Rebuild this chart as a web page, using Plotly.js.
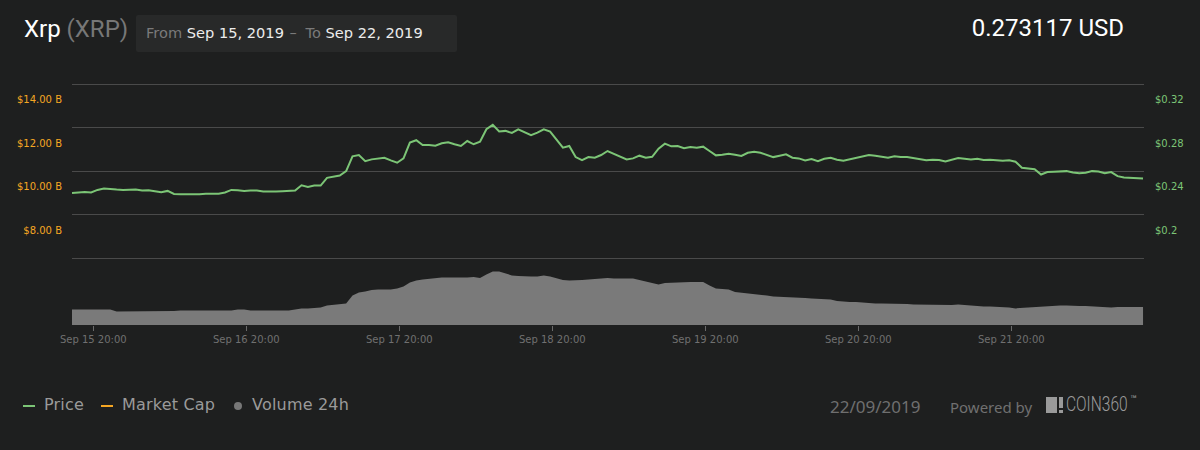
<!DOCTYPE html>
<html>
<head>
<meta charset="utf-8">
<script src="https://cdn.plot.ly/plotly-3.0.1.min.js"></script>
<style>
  html, body { margin:0; padding:0; background:#1e1f1f; width:1200px; height:450px; overflow:hidden; }
  #chart { position:absolute; left:0; top:0; width:1200px; height:450px; }
  .abs { position:absolute; white-space:nowrap; }
  #title { left:24px; top:15px; font-family:Roboto, "Noto Sans", sans-serif; font-size:24px; color:#ffffff; }
  #title span { color:#777777; }
  #range { left:136px; top:15px; width:321px; height:37px; background:#282929; border-radius:2px; }
  #rangetxt { left:146px; top:24px; font-family:"DejaVu Sans", sans-serif; font-size:14.6px; color:#ececec; }
  #rangetxt .g { color:#7a7a7a; }
  #price { right:76px; top:14px; font-family:Roboto, "Noto Sans", sans-serif; font-size:24px; color:#ffffff; }
  .leg { top:395px; font-family:"DejaVu Sans", sans-serif; font-size:16px; letter-spacing:0.2px; color:#9a9a9a; }
  .sw { position:absolute; height:2px; width:12px; top:405px; }
  #date { left:830px; top:395px; font-family:"Noto Sans", sans-serif; font-size:17px; color:#6f6f6f; }
  #pow { left:950px; top:397px; font-family:"Noto Sans", sans-serif; font-size:15px; color:#707070; }
  #logo { left:1066px; top:392px; font-family:Roboto, "Noto Sans", sans-serif; font-weight:300; font-size:21px; color:#9a9a9a; transform-origin:0 0; transform:scaleX(0.74); }
  #tm { left:1130px; top:393px; font-family:Roboto, sans-serif; font-size:11px; color:#9a9a9a; }
</style>
</head>
<body>
<div id="chart"></div>
<div class="abs" id="title">Xrp <span>(XRP)</span></div>
<div class="abs" id="range"></div>
<div class="abs" id="rangetxt"><span class="g">From</span> Sep 15, 2019 <span class="g" style="margin:0 4px 0 1px">–</span> <span class="g">To</span> Sep 22, 2019</div>
<div class="abs" id="price">0.273117 USD</div>

<div class="sw" style="left:23px;background:#7cc576"></div>
<div class="abs leg" style="left:44px">Price</div>
<div class="sw" style="left:101px;background:#f5a623"></div>
<div class="abs leg" style="left:122px">Market Cap</div>
<div class="abs" style="left:234px;top:402px;width:8px;height:8px;border-radius:4px;background:#777"></div>
<div class="abs leg" style="left:252px">Volume 24h</div>

<div class="abs" id="date">22/09/2019</div>
<div class="abs" id="pow">Powered by</div>
<div class="abs" style="left:1046px;top:397px;width:11px;height:16px;background:#9a9a9a"></div>
<div class="abs" style="left:1059px;top:397px;width:4px;height:11px;background:#9a9a9a"></div>
<div class="abs" style="left:1059px;top:410px;width:4px;height:3px;background:#9a9a9a"></div>
<div class="abs" id="logo">COIN360</div>
<div class="abs" id="tm">™</div>

<script>
// ---- data (hourly samples, starting Sep 15 2019 16:40) ----
const startTime = "2019-09-15 16:40";
const stepMinutes = 60;

const priceUSD = [
  0.2598,0.2605,0.2608,0.2602,0.2626,0.2639,0.2632,0.2629,0.2626,0.2629,
  0.2629,0.2620,0.2623,0.2614,0.2605,0.2617,0.2589,0.2586,0.2586,0.2583,
  0.2586,0.2592,0.2592,0.2592,0.2602,0.2626,0.2623,0.2617,0.2620,0.2620,
  0.2611,0.2608,0.2611,0.2614,0.2617,0.2620,0.2669,0.2654,0.2666,0.2666,
  0.2737,0.2746,0.2759,
  0.2799,0.2935,0.2947,0.2891,0.2907,0.2916,0.2922,0.2898,0.2876,0.2916,
  0.3061,0.3083,0.3039,0.3039,0.3033,0.3055,0.3064,0.3046,0.3030,0.3076,
  0.3046,0.3070,0.3184,0.3224,0.3163,0.3169,0.3150,0.3184,0.3153,0.3129,
  0.3153,0.3184,0.3163,0.3092,0.3015,0.3030,0.2928,0.2901,0.2928,0.2922,
  0.2947,0.2984,
  0.2959,0.2931,0.2907,0.2916,0.2941,0.2922,0.2931,0.3005,0.3052,0.3027,
  0.3030,0.3009,0.3021,0.3015,0.3024,0.2984,0.2944,0.2950,0.2959,0.2950,
  0.2938,0.2968,0.2978,0.2968,0.2947,0.2928,0.2941,0.2953,0.2922,0.2916,
  0.2898,0.2910,0.2891,0.2913,0.2922,0.2904,0.2894,0.2907,0.2919,0.2935,
  0.2947,0.2941,
  0.2931,0.2922,0.2935,0.2928,0.2928,0.2916,0.2910,0.2898,0.2904,0.2901,
  0.2888,0.2901,0.2919,0.2913,0.2907,0.2913,0.2901,0.2904,0.2901,0.2894,
  0.2898,0.2885,0.2830,0.2820,0.2817,0.2768,0.2790,0.2793,0.2799,0.2799,
  0.2787,0.2780,0.2784,0.2799,0.2796,0.2780,0.2790,0.2753,0.2740,0.2737,
  0.2740,0.2731
];

const volumeB = [
  0.78,0.78,0.78,0.78,0.78,0.78,0.78,0.67,0.67,0.67,
  0.67,0.67,0.67,0.67,0.67,0.67,0.70,0.72,0.72,0.72,
  0.70,0.72,0.72,0.72,0.72,0.73,0.77,0.77,0.73,0.72,
  0.72,0.72,0.72,0.72,0.72,0.77,0.82,0.83,0.85,0.87,
  0.97,1.00,1.03,1.07,1.47,1.63,1.67,1.75,1.77,1.77,
  1.78,1.82,1.93,2.13,2.23,2.28,2.32,2.35,2.38,2.38,
  2.37,2.37,2.38,2.40,2.35,2.53,2.67,2.68,2.58,2.48,
  2.45,2.43,2.43,2.43,2.47,2.43,2.33,2.25,2.22,2.22,
  2.25,2.28,2.30,2.32,2.35,2.33,2.33,2.32,2.32,2.25,
  2.17,2.07,2.02,2.10,2.12,2.13,2.13,2.15,2.15,2.15,
  1.97,1.83,1.80,1.77,1.65,1.62,1.58,1.55,1.50,1.47,
  1.43,1.42,1.38,1.37,1.37,1.35,1.33,1.32,1.30,1.28,
  1.20,1.17,1.15,1.15,1.12,1.07,1.07,1.07,1.07,1.07,
  1.07,1.05,1.03,1.02,1.02,1.02,1.02,1.00,1.00,1.02,
  1.00,0.95,0.93,0.93,0.93,0.92,0.90,0.87,0.83,0.85,
  0.87,0.90,0.93,0.95,0.95,0.97,0.97,0.95,0.95,0.95,
  0.93,0.92,0.90,0.88,0.90,0.90,0.90,0.90,0.90
];

const xTickVals = ["2019-09-15 20:00","2019-09-16 20:00","2019-09-17 20:00","2019-09-18 20:00",
                   "2019-09-19 20:00","2019-09-20 20:00","2019-09-21 20:00"];
const xTickText = ["Sep 15 20:00","Sep 16 20:00","Sep 17 20:00","Sep 18 20:00",
                   "Sep 19 20:00","Sep 20 20:00","Sep 21 20:00"];
const priceTickVals = [0.20,0.24,0.28,0.32,0.36];
const priceTickText = ["$0.2","$0.24","$0.28","$0.32",""];
const capTickVals = [8,10,12,14,16];
const capTickText = ["$8.00 B","$10.00 B","$12.00 B","$14.00 B",""];
const xRange = ["2019-09-15 16:40","2019-09-22 16:49"];

// ---- build time axis ----
function pad(n){ return (n<10?"0":"")+n; }
function fmt(d){
  return d.getUTCFullYear()+"-"+pad(d.getUTCMonth()+1)+"-"+pad(d.getUTCDate())+" "+pad(d.getUTCHours())+":"+pad(d.getUTCMinutes());
}
const t0 = new Date(startTime.replace(" ","T")+":00Z");
const times = priceUSD.map((_, i) => fmt(new Date(t0.getTime() + i*stepMinutes*60000)));

const traces = [
  { x: times, y: priceUSD, type:"scatter", mode:"lines", name:"Price", yaxis:"y",
    line:{color:"#7cc576", width:2}, hoverinfo:"skip" },
  { x: [times[0]], y: [null], type:"scatter", mode:"lines", name:"Market Cap", yaxis:"y2",
    line:{color:"#f5a623", width:2}, hoverinfo:"skip" },
  { x: times, y: volumeB, type:"scatter", mode:"lines", name:"Volume 24h", yaxis:"y3",
    line:{color:"#7a7a7a", width:0}, fill:"tozeroy", fillcolor:"#7a7a7a", hoverinfo:"skip" }
];

const layout = {
  width:1200, height:450,
  paper_bgcolor:"#1e1f1f", plot_bgcolor:"#1e1f1f",
  margin:{l:72, r:56, t:80, b:125},
  showlegend:false,
  font:{family:"DejaVu Sans, sans-serif"},
  xaxis:{ type:"date", range:xRange, tickvals:xTickVals, ticktext:xTickText,
    showgrid:false, zeroline:false, showline:false,
    ticks:"outside", ticklen:5, tickcolor:"#6a6a6a", tickwidth:1,
    tickfont:{size:10, color:"#707070"} },
  yaxis:{ side:"right", range:[0.1384, 0.3637], tickvals:priceTickVals, ticktext:priceTickText,
    showgrid:true, gridcolor:"#4a4a4a", gridwidth:1, zeroline:false, showline:false, ticks:"",
    ticklabelshift:-28, ticklabelstandoff:10, tickfont:{size:10, color:"#7cc576"} },
  yaxis2:{ side:"left", overlaying:"y", range:[4.92, 16.185], tickvals:capTickVals, ticktext:capTickText,
    showgrid:false, zeroline:false, showline:false, ticks:"",
    ticklabelshift:-28, ticklabelstandoff:9, tickfont:{size:10, color:"#f5a623"} },
  yaxis3:{ overlaying:"y", range:[0, 12.25], visible:false, showgrid:false, zeroline:false }
};

Plotly.newPlot("chart", traces, layout, {staticPlot:true, displayModeBar:false});
</script>
</body>
</html>
